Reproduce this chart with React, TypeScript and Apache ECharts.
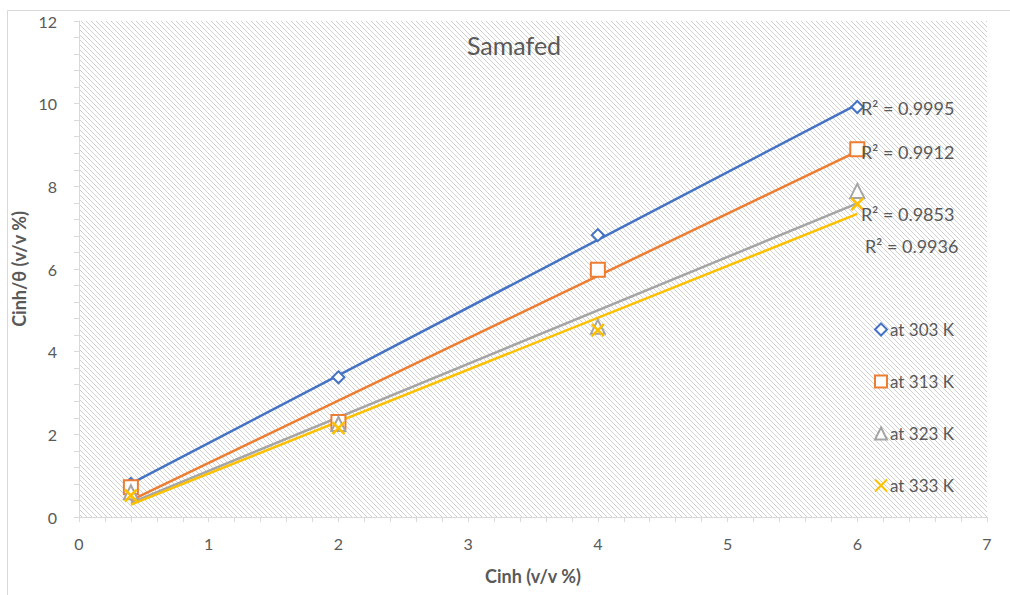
import React, { useEffect, useRef } from "react";
import * as echarts from "echarts";

const xValues = [0.4, 2, 4, 6];
const y303 = [0.8, 3.38, 6.82, 9.92];
const y313 = [0.72, 2.3, 5.98, 8.9];
const y323 = [0.6, 2.25, 4.6, 7.89];
const y333 = [0.52, 2.15, 4.52, 7.57];
const seriesNames = ["at 303 K", "at 313 K", "at 323 K", "at 333 K"];
const r2Labels = ["R² = 0.9995", "R² = 0.9912", "R² = 0.9853", "R² = 0.9936"];
const colors = ["#4472C4", "#ED7D31", "#A5A5A5", "#FFC000"];
const titleText = "Samafed";
const xName = "Cinh (v/v %)";
const yName = "Cinh/θ (v/v %)";

const FONT = "Lato, 'Open Sans', sans-serif";
const TXT = "#595959";

function fitLine(xs: number[], ys: number[]) {
  const n = xs.length;
  const mx = xs.reduce((a, b) => a + b, 0) / n;
  const my = ys.reduce((a, b) => a + b, 0) / n;
  let sxy = 0;
  let sxx = 0;
  for (let i = 0; i < n; i++) {
    sxy += (xs[i] - mx) * (ys[i] - my);
    sxx += (xs[i] - mx) * (xs[i] - mx);
  }
  const b = sxy / sxx;
  const a = my - b * mx;
  const x0 = Math.min(...xs);
  const x1 = Math.max(...xs);
  return [
    [x0, a + b * x0],
    [x1, a + b * x1],
  ];
}

function makeHatch() {
  const n = 5;
  const c = document.createElement("canvas");
  c.width = n;
  c.height = n;
  const ctx = c.getContext("2d")!;
  const img = ctx.createImageData(n, n);
  for (let y = 0; y < n; y++) {
    for (let x = 0; x < n; x++) {
      const idx = (y * n + x) * 4;
      const on = x === y;
      const v = on ? 208 : 255;
      img.data[idx] = v;
      img.data[idx + 1] = v;
      img.data[idx + 2] = v;
      img.data[idx + 3] = 255;
    }
  }
  ctx.putImageData(img, 0, 0);
  return c;
}

export default function App() {
  const ref = useRef<HTMLDivElement>(null);
  useEffect(() => {
    document.body.style.margin = "0";
    if (!ref.current) return;
    const chart = echarts.init(ref.current, null, { renderer: "svg" });
    const allY = [y303, y313, y323, y333];
    const symbols = [
      "diamond",
      "rect",
      "triangle",
      "path://M0,0 L10,10 M10,0 L0,10",
    ];
    const sizes = [12, 14, 14, 12];
    const scatterSeries = allY.map((ys, i) => ({
      name: seriesNames[i],
      type: "scatter",
      data: xValues.map((x, j) => [x, ys[j]]),
      symbol: symbols[i],
      symbolSize: sizes[i],
      itemStyle: {
        color: i === 3 ? colors[i] : "#ffffff",
        borderColor: colors[i],
        borderWidth: i === 3 ? 2.5 : 2,
        opacity: 1,
      },
      z: 3,
    }));
    const lineSeries = allY.map((ys, i) => ({
      name: seriesNames[i] + " trend",
      type: "line",
      data: fitLine(xValues, ys),
      symbol: "none",
      lineStyle: { color: colors[i], width: 2.5 },
      z: 2,
      silent: true,
    }));
    const r2Pos = [
      [861, 108],
      [861, 152],
      [861, 214],
      [865, 246],
    ];
    const option = {
      animation: false,
      textStyle: { fontFamily: FONT },
      grid: {
        left: 79,
        right: 23,
        top: 21,
        bottom: 78,
        show: true,
        borderWidth: 0,
        backgroundColor: { image: makeHatch(), repeat: "repeat" },
      },
      xAxis: {
        type: "value",
        min: 0,
        max: 7,
        interval: 1,
        name: xName,
        nameLocation: "middle",
        nameGap: 50,
        nameTextStyle: { color: TXT, fontSize: 18, fontWeight: "bold", fontFamily: FONT },
        axisLine: { show: true, lineStyle: { color: "#d9d9d9", width: 1 } },
        axisTick: { show: true, length: 5, lineStyle: { color: "#d9d9d9" } },
        minorTick: { show: true, splitNumber: 5, length: 5, lineStyle: { color: "#d9d9d9" } },
        splitLine: { show: false },
        axisLabel: { color: TXT, fontSize: 16, margin: 18, fontFamily: FONT },
      },
      yAxis: {
        type: "value",
        min: 0,
        max: 12,
        interval: 2,
        name: yName,
        nameLocation: "middle",
        nameGap: 48,
        nameTextStyle: { color: TXT, fontSize: 18, fontWeight: "bold", fontFamily: FONT },
        axisLine: { show: true, lineStyle: { color: "#d9d9d9", width: 1 } },
        axisTick: { show: true, length: 5, lineStyle: { color: "#d9d9d9" } },
        minorTick: { show: true, splitNumber: 5, length: 5, lineStyle: { color: "#d9d9d9" } },
        splitLine: { show: false },
        axisLabel: { color: TXT, fontSize: 16, margin: 22, fontFamily: FONT },
      },
      legend: {
        orient: "vertical",
        left: 869,
        top: 316,
        itemWidth: 12,
        itemHeight: 12,
        itemGap: 35,
        selectedMode: false,
        data: seriesNames,
        textStyle: { color: TXT, fontSize: 17, fontFamily: FONT, padding: [0, 0, 0, -2] },
      },
      graphic: [
        {
          type: "rect",
          shape: { x: 7.5, y: 10.5, width: 1010, height: 600 },
          style: { fill: "none", stroke: "#d9d9d9", lineWidth: 1 },
          silent: true,
          z: -10,
        },
        {
          type: "text",
          x: 514,
          y: 45,
          style: {
            text: titleText,
            fill: TXT,
            fontSize: 25,
            fontFamily: FONT,
            align: "center",
            verticalAlign: "middle",
          },
          z: 10,
        },
        ...r2Labels.map((t, i) => ({
          type: "text",
          x: r2Pos[i][0],
          y: r2Pos[i][1],
          style: {
            text: t,
            fill: TXT,
            fontSize: 18,
            fontFamily: FONT,
            align: "left",
            verticalAlign: "middle",
          },
          z: 10,
        })),
      ],
      series: [...lineSeries, ...scatterSeries],
    };
    chart.setOption(option as any);
    return () => chart.dispose();
  }, []);
  return <div ref={ref} style={{ width: 1010, height: 595 }} />;
}
